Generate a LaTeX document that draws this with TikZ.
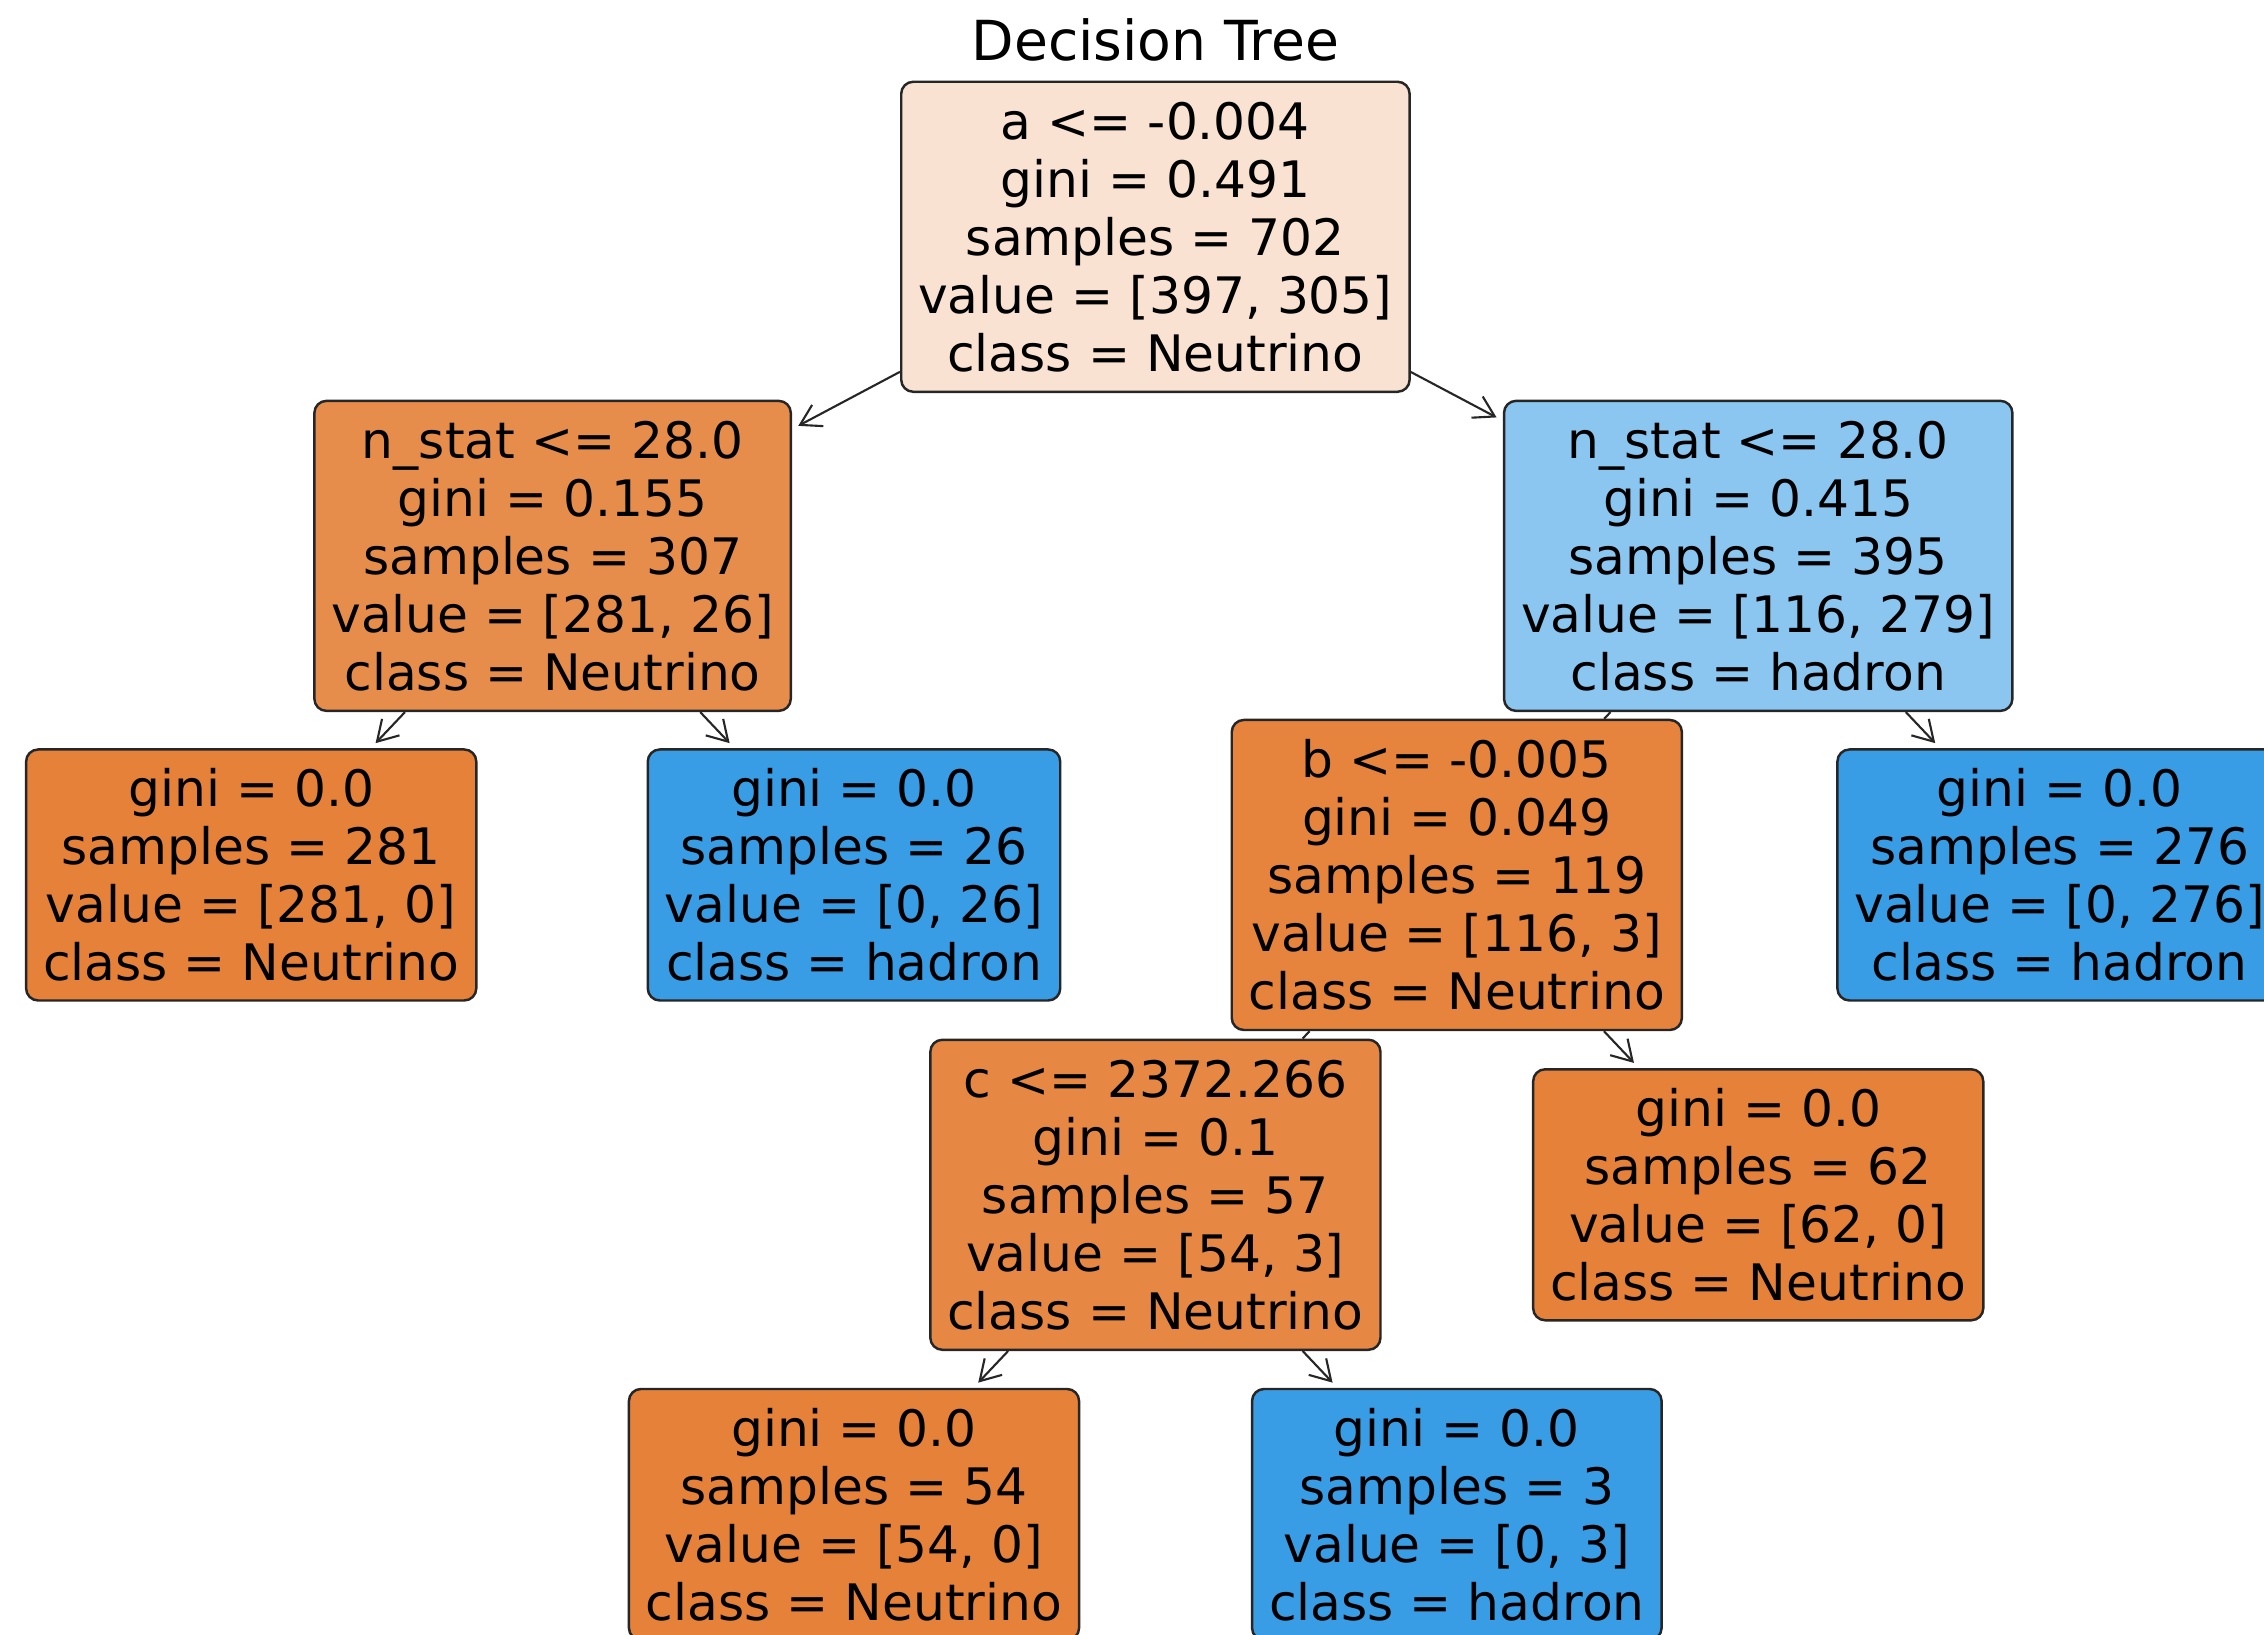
\documentclass[tikz,border=0pt]{standalone}
\usepackage{fontspec}
\setmainfont{DejaVu Sans}
\usetikzlibrary{arrows.meta}
\definecolor{rootfill}{HTML}{F9E2D1}
\definecolor{lonefill}{HTML}{E78D4B}
\definecolor{ronefill}{HTML}{8BC6F0}
\definecolor{bfill}{HTML}{E6843E}
\definecolor{cfill}{HTML}{E68844}
\definecolor{nufill}{HTML}{E58139}
\definecolor{hadfill}{HTML}{399DE5}
\tikzset{
	tnode/.style={draw=black!85, line width=0.7pt, rounded corners=0.12cm, fill=#1, align=center, inner xsep=0.17cm, font=\fontsize{14.3}{16.5}\selectfont},
	splitnode/.style={tnode=#1, minimum height=3.1cm},
	leafnode/.style={tnode=#1, minimum height=2.51cm},
	treearrow/.style={-{Straight Barb[length=2mm,width=2.4mm]}, line width=0.6pt, black!85, shorten >=2pt}
}

\begin{document}
\begin{tikzpicture}

\useasboundingbox (0,0) rectangle (22.64,16.35);
\clip (0,0) rectangle (22.64,16.35);

\node (title) at (11.554,15.95) {\fontsize{15.7}{18}\selectfont Decision Tree};

\node[splitnode=rootfill] (root) at (11.554,13.982) {a <= -0.004\\gini = 0.491\\samples = 702\\value = [397, 305]\\class = Neutrino};
\node[splitnode=lonefill] (nl) at (5.526,10.791) {n\_stat <= 28.0\\gini = 0.155\\samples = 307\\value = [281, 26]\\class = Neutrino};
\node[splitnode=ronefill] (nr) at (17.582,10.791) {n\_stat <= 28.0\\gini = 0.415\\samples = 395\\value = [116, 279]\\class = hadron};
\node[leafnode=nufill] (nll) at (2.512,7.6) {gini = 0.0\\samples = 281\\value = [281, 0]\\class = Neutrino};
\node[leafnode=hadfill] (nlr) at (8.54,7.6) {gini = 0.0\\samples = 26\\value = [0, 26]\\class = hadron};
\node[splitnode=bfill] (nrl) at (14.568,7.6) {b <= -0.005\\gini = 0.049\\samples = 119\\value = [116, 3]\\class = Neutrino};
\node[leafnode=hadfill] (nrr) at (20.596,7.6) {gini = 0.0\\samples = 276\\value = [0, 276]\\class = hadron};
\node[splitnode=cfill] (nrll) at (11.554,4.402) {c <= 2372.266\\gini = 0.1\\samples = 57\\value = [54, 3]\\class = Neutrino};
\node[leafnode=nufill] (nrlr) at (17.582,4.402) {gini = 0.0\\samples = 62\\value = [62, 0]\\class = Neutrino};
\node[leafnode=nufill] (nrlll) at (8.54,1.205) {gini = 0.0\\samples = 54\\value = [54, 0]\\class = Neutrino};
\node[leafnode=hadfill] (nrllr) at (14.568,1.205) {gini = 0.0\\samples = 3\\value = [0, 3]\\class = hadron};

\draw[treearrow] (root) -- (nl);
\draw[treearrow] (root) -- (nr);
\draw[treearrow] (nl) -- (nll);
\draw[treearrow] (nl) -- (nlr);
\draw[line width=0.6pt, black!85] (nr) -- (nrl);
\draw[treearrow] (nr) -- (nrr);
\draw[line width=0.6pt, black!85] (nrl) -- (nrll);
\draw[treearrow] (nrl) -- (nrlr);
\draw[treearrow] (nrll) -- (nrlll);
\draw[treearrow] (nrll) -- (nrllr);

\end{tikzpicture}
\end{document}
